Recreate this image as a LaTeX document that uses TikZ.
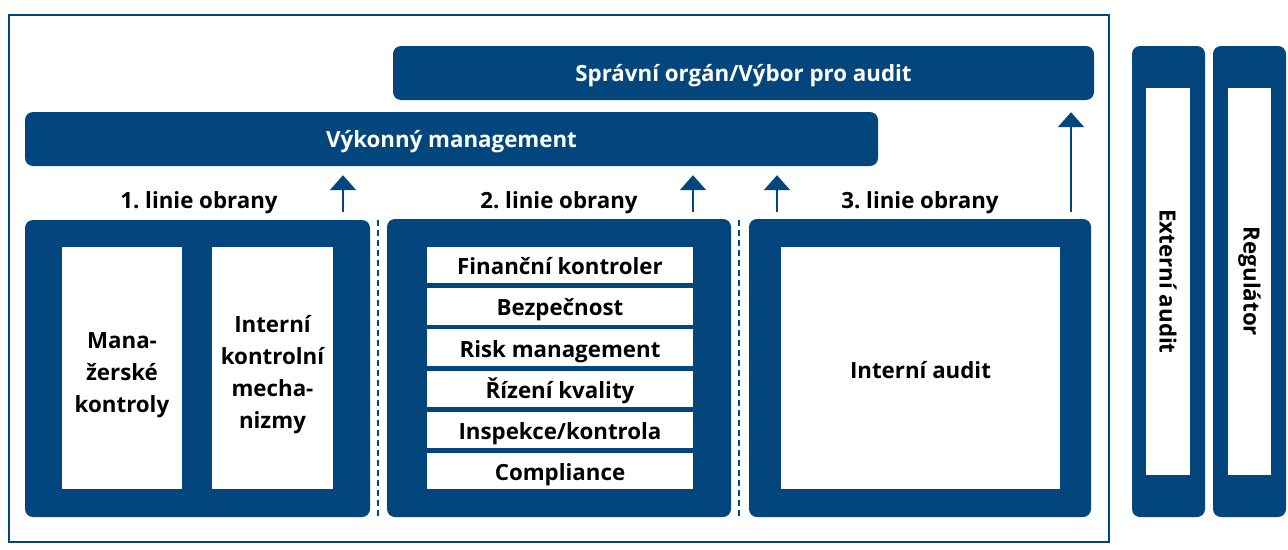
\documentclass[tikz,border=0pt]{standalone}
\usepackage{fontspec}
\setmainfont{Open Sans}
\usetikzlibrary{arrows.meta}
\definecolor{navy}{RGB}{3,70,125}
\frenchspacing
% centred lines stacked at a fixed 32pt pitch; the box baseline is the last line
\newcommand\linestack[1]{\vbox{\baselineskip=32pt\lineskiplimit=-100pt\halign{\hfil##\hfil\cr#1\crcr}}}
\begin{document}
\begin{tikzpicture}[x=1pt,y=-1pt,
  txt/.style={font=\bfseries\fontsize{22.3}{32}\selectfont},
  bar/.style={txt, fill=navy, rounded corners=8pt, text=white, inner sep=0pt, text height=17.5pt, text depth=0pt},
  holder/.style={fill=navy, rounded corners=8pt, inner sep=0pt},
  panel/.style={txt, fill=white, text=black, inner sep=0pt, text depth=0pt},
  strip/.style={panel, minimum width=266pt, minimum height=36.3pt, text height=19pt},
  lbl/.style={txt, text=black},
  arr/.style={draw=navy, line width=2.2pt, -{Triangle[width=26pt,length=15pt]}},
  sep/.style={draw=navy, line width=1.6pt, dash pattern=on 6pt off 4pt}]
\useasboundingbox (0,0) rectangle (1288,549);

% outer frame
\draw[navy, line width=2pt] (9,15) rectangle (1109,542);

% governance bars
\node[bar, minimum width=701pt, minimum height=54pt] (board) at (743.5,73) {Správní orgán/Výbor pro audit};
\node[bar, minimum width=853pt, minimum height=54pt] (mgmt) at (451.5,139) {Výkonný management};

% line labels
\node[lbl, anchor=base] (l1) at (199,208.5) {1. linie obrany};
\node[lbl, anchor=base] (l2) at (559,208.5) {2. linie obrany};
\node[lbl, anchor=base] (l3) at (920,208.5) {3. linie obrany};

% first line
\node[holder, minimum width=345pt, minimum height=297pt] (b1) at (197.5,368.5) {};
\node[panel, minimum width=120pt, minimum height=242pt, text height=88pt] (mk) at (122,368)
  {\linestack{Mana-\cr žerské\cr kontroly}};
\node[panel, minimum width=121pt, minimum height=242pt, text height=120pt] (ik) at (272.5,368)
  {\linestack{Interní\cr kontrolní\cr mecha-\cr nizmy}};

% second line
\node[holder, minimum width=344pt, minimum height=298pt] (b2) at (559,368) {};
\node[strip] (s1) at (560,265.2) {Finanční kontroler};
\node[strip] (s2) at (560,306.4) {Bezpečnost};
\node[strip] (s3) at (560,347.6) {Risk management};
\node[strip] (s4) at (560,388.8) {Řízení kvality};
\node[strip] (s5) at (560,430) {Inspekce/kontrola};
\node[strip] (s6) at (560,471.2) {Compliance};

% third line
\node[holder, minimum width=342pt, minimum height=298pt] (b3) at (920,368) {};
\node[panel, minimum width=279pt, minimum height=242pt, text height=20pt] (ia) at (920.5,368) {Interní audit};

% separators between lines
\draw[sep] (378,220) -- (378,517);
\draw[sep] (739,220) -- (739,517);

% external parties
\node[holder, minimum width=73pt, minimum height=471pt] (ext) at (1168.5,281.5) {};
\node[panel, minimum width=44pt, minimum height=387pt] (exti) at (1168,281.5) {};
\node[lbl, rotate=-90] (extt) at (exti.center) {Externí audit};
\node[holder, minimum width=73pt, minimum height=471pt] (reg) at (1249.5,281.5) {};
\node[panel, minimum width=43pt, minimum height=387pt] (regi) at (1249.5,281.5) {};
\node[lbl, rotate=-90] (regt) at (regi.center) {Regulátor};

% reporting arrows
\coordinate (a1) at (343,212);
\coordinate (a2) at (693,212);
\coordinate (a3) at (777,212);
\coordinate (a4) at (1071,212);
\draw[arr] (a1) -- ([yshift=-9pt]a1 |- mgmt.south);
\draw[arr] (a2) -- ([yshift=-9pt]a2 |- mgmt.south);
\draw[arr] (a3) -- ([yshift=-9pt]a3 |- mgmt.south);
\draw[arr] (a4) -- ([yshift=-12pt]a4 |- board.south);
\end{tikzpicture}
\end{document}
